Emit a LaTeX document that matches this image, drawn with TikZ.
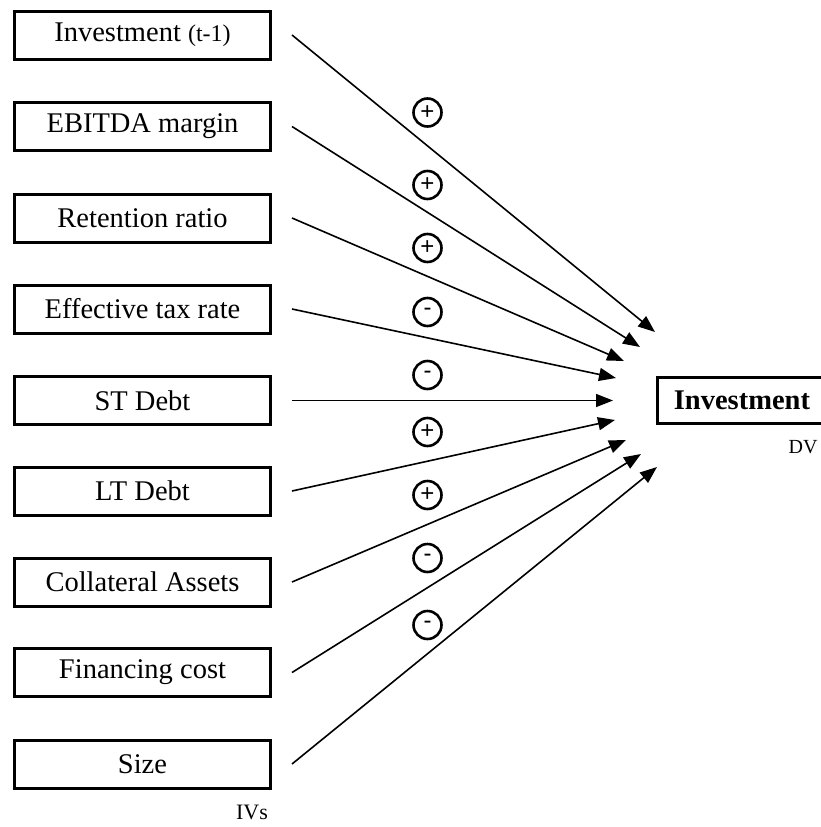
\documentclass[tikz,border=0pt]{standalone}
\usepackage{fontspec}
\setmainfont{Liberation Serif}
\newfontfamily\signfont{Liberation Sans}
\usetikzlibrary{arrows.meta}
\tikzset{
  ivbox/.style={draw, line width=3pt, minimum width=256pt, minimum height=48pt, inner sep=0pt,
    font=\fontsize{28.5}{32}\selectfont},
  dvbox/.style={draw, line width=3pt, minimum height=46.3pt, inner xsep=16pt, inner ysep=0pt, anchor=west,
    font=\fontsize{28.5}{32}\selectfont\bfseries},
  sign/.style={draw, circle, line width=2.6pt, minimum size=28pt, inner sep=0pt,
    font=\signfont\fontsize{24}{26}\selectfont},
  link/.style={line width=1.6pt, -{Triangle[length=17pt,width=13pt]}},
  note/.style={inner sep=0pt}
}
\begin{document}
\begin{tikzpicture}[x=1pt,y=-1pt]
\useasboundingbox (0,0) rectangle (821,827);
% independent variables
\node[ivbox] (b1) at (142.5,35) {Investment {\fontsize{24}{26}\selectfont(t-1)}};
\node[ivbox] (b2) at (142.5,126.5) {EBITDA margin};
\node[ivbox] (b3) at (142.5,218) {Retention ratio};
\node[ivbox] (b4) at (142.5,309) {Effective tax rate};
\node[ivbox] (b5) at (142.5,400.5) {ST Debt};
\node[ivbox] (b6) at (142.5,491) {LT Debt};
\node[ivbox] (b7) at (142.5,582) {Collateral Assets};
\node[ivbox] (b8) at (142.5,672.5) {Financing cost};
\node[ivbox] (b9) at (142.5,764) {Size};
\node[note, font=\fontsize{22}{24}\selectfont] (ivs) at (252,812) {IVs};
% dependent variable
\node[dvbox] (dv) at (656.35,400.5) {Investment};
\node[note, font=\fontsize{20}{22}\selectfont] (dvl) at (803,447) {DV};
% arrow tips
\coordinate (t1) at (655,332);
\coordinate (t2) at (640,347);
\coordinate (t3) at (624,361);
\coordinate (t4) at (616,378);
\coordinate (t5) at (613,400.5);
\coordinate (t6) at (615,420);
\coordinate (t7) at (626,440);
\coordinate (t8) at (641,454);
\coordinate (t9) at (657,467);
% connectors
\foreach \i in {1,...,9}{
  \draw[link] ([xshift=20pt]b\i.east) -- (t\i);
}
% signs
\node[sign] (s1) at (427.5,112.5) {+};
\node[sign] (s2) at (427.5,185) {+};
\node[sign] (s3) at (427.5,248) {+};
\node[sign] (s4) at (427.5,312) {-};
\node[sign] (s5) at (427.5,375) {-};
\node[sign] (s6) at (427.5,432) {+};
\node[sign] (s7) at (427.5,495) {+};
\node[sign] (s8) at (427.5,558) {-};
\node[sign] (s9) at (427.5,625) {-};
\end{tikzpicture}
\end{document}
